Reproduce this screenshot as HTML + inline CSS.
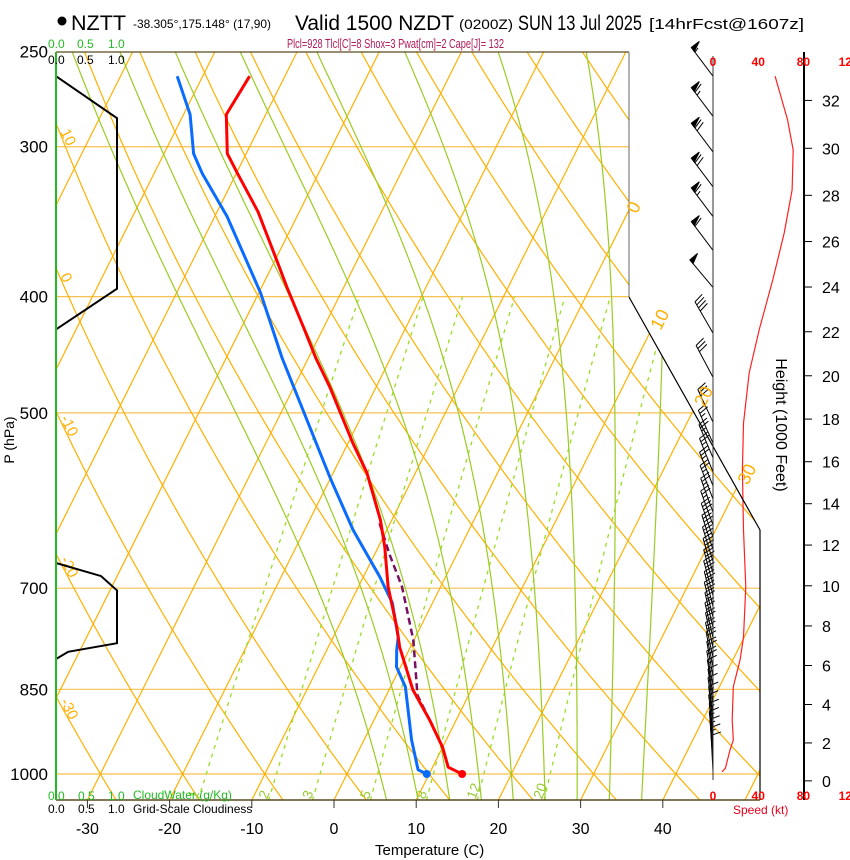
<!DOCTYPE html>
<html><head><meta charset="utf-8"><style>
html,body{margin:0;padding:0;background:#fff;}
svg{display:block;font-family:"Liberation Sans",sans-serif;}
</style></head><body>
<svg id="chart" width="850" height="860" viewBox="0 0 850 860" xmlns="http://www.w3.org/2000/svg">
<defs><clipPath id="plotclip"><polygon points="56,52 629,52 629,297 760,530 760,800 56,800"/></clipPath></defs>
<rect x="0" y="0" width="850" height="860" fill="#fff"/>
<g id="grid" clip-path="url(#plotclip)"></g>
<g id="series"></g>
<g id="axes"></g>
<g id="texts">
<circle cx="62" cy="21" r="4.5" fill="#000"/>
<text x="71" y="30" font-size="21" textLength="55" lengthAdjust="spacingAndGlyphs">NZTT</text>
<text x="133" y="28" font-size="12" textLength="138" lengthAdjust="spacingAndGlyphs">-38.305°,175.148° (17,90)</text>
<text x="295" y="30" font-size="21" textLength="159" lengthAdjust="spacingAndGlyphs">Valid 1500 NZDT</text>
<text x="459" y="29" font-size="14" textLength="54" lengthAdjust="spacingAndGlyphs">(0200Z)</text>
<text x="518" y="30" font-size="21" textLength="124" lengthAdjust="spacingAndGlyphs">SUN 13 Jul 2025</text>
<text x="649" y="29" font-size="15" textLength="155" lengthAdjust="spacingAndGlyphs">[14hrFcst@1607z]</text>
<text x="287" y="48" font-size="13" fill="#b0185a" textLength="217" lengthAdjust="spacingAndGlyphs">Plcl=928 Tlcl[C]=8 Shox=3 Pwat[cm]=2 Cape[J]= 132</text>
<text x="48" y="48" font-size="12" fill="#22bb22">0.0</text>
<text x="77" y="48" font-size="12" fill="#22bb22">0.5</text>
<text x="108" y="48" font-size="12" fill="#22bb22">1.0</text>
<text x="48" y="64" font-size="12">0.0</text>
<text x="77" y="64" font-size="12">0.5</text>
<text x="108" y="64" font-size="12">1.0</text>
<text x="48" y="800" font-size="12" fill="#22bb22">0.0</text>
<text x="78" y="800" font-size="12" fill="#22bb22">0.5</text>
<text x="108" y="800" font-size="12" fill="#22bb22">1.0</text>
<text x="133" y="799" font-size="12" fill="#22bb22">CloudWater (g/Kg)</text>
<text x="48" y="813" font-size="12">0.0</text>
<text x="78" y="813" font-size="12">0.5</text>
<text x="108" y="813" font-size="12">1.0</text>
<text x="133" y="813" font-size="12">Grid-Scale Cloudiness</text>
<text x="375" y="855" font-size="15">Temperature (C)</text>
<text transform="translate(14,440) rotate(-90)" text-anchor="middle" font-size="14">P (hPa)</text>
<text transform="translate(776,425) rotate(90)" text-anchor="middle" font-size="16">Height (1000 Feet)</text>
<text x="733" y="814" font-size="12" fill="#e8001c">Speed (kt)</text>
</g>
</svg>
<script>
// ---- data ----
const tempP = [1000,987,950,902,851,784,754,698,647,614,561,530,476,450,424,393,373,340,316,304,282,262];
const tempT = [14.0,11.9,10.0,6.8,2.9,-1.3,-2.9,-6.4,-9.2,-11.4,-15.9,-19.4,-25.6,-29.1,-32.5,-36.9,-39.8,-45.0,-49.8,-52.3,-54.8,-54.3];
const dewP = [1000,992,937,846,814,788,769,720,685,626,566,450,397,343,316,304,282,262];
const dewT = [9.7,8.4,5.8,1.8,-0.5,-1.5,-2.1,-4.9,-8.0,-14.1,-20.1,-33.2,-39.8,-48.5,-54.1,-56.4,-59.2,-63.1];
const parcelP = [902,860,773,698,657,618];
const parcelT = [6.8,3.8,-0.1,-4.7,-8.1,-11.3];
const cloudTopP = [262,284,394,426];
const cloudTopF = [0,1,1,0];
const cloudLowP = [667,684,703,778,791,802];
const cloudLowF = [0,0.74,1,1,0.2,0];
const speedP = [262,285,302,326,354,387,426,463,510,558,626,698,769,803,846,901,937,955,989,996];
const speedKt = [55,66,71,70,63,53,41,32,27,26,27,29,27,24,18,17,18,15,11,8];
const barbP = [262,283,303,324,343,366,393,429,467,509,530,545,560,575,590,605,620,635,650,665,680,695,710,725,740,755,770,785,800,815,830,845,860,875,890,905,920,935,950,965,980,995];
const barbKt = [55,65,70,70,65,60,50,38,32,28,27,26,26,26,26,27,27,28,28,29,29,29,29,29,28,27,27,26,24,22,20,18,17,17,17,17,17,17,16,15,13,9];
const barbDir = [323,323,323,323,323,323,320,330,332,335,336,337,338,338,339,340,340,341,342,343,344,345,345,346,346,347,347,348,348,349,350,350,351,352,352,353,353,354,354,355,356,357];
const pressureTicks = [250,300,400,500,700,850,1000];
const tempTicks = [-30,-20,-10,0,10,20,30,40];
const heightTicks = [0,2,4,6,8,10,12,14,16,18,20,22,24,26,28,30,32];
const speedTicks = [0,40,80,120];
const mixRatios = [1,2,3,5,8,12,20];
const moistThetas = [4,8,12,16,20,24,28,32,36];
const dryThetaLabels = [10,0,-10,-20,-30];
const isoLabels = [0,10,20,30];

// ---- scales ----
const NS='http://www.w3.org/2000/svg';
function yOf(p){return 774-521*Math.log(1000/p);}
function xOf(T,p){return 347+8.22*T+0.5*(774-yOf(p));}
function spX(k){return 713+1.13*k;}
function cfX(f){return 56+61*f;}
function hToP(hk){return 1013.25*Math.pow(1-6.8756e-6*hk*1000,5.2559);}
function mk(tag,parent,attrs){const e=document.createElementNS(NS,tag);for(const k in attrs)e.setAttribute(k,attrs[k]);parent.appendChild(e);return e;}
const grid=document.getElementById('grid'),series=document.getElementById('series'),axes=document.getElementById('axes'),texts=document.getElementById('texts');
function poly(parent,pts,style){return mk('polyline',parent,Object.assign({points:pts.map(q=>q[0].toFixed(1)+','+q[1].toFixed(1)).join(' '),fill:'none'},style));}
const pLevels=[];for(let p=1052;p>=248;p-=4)pLevels.push(p);

// isobars
pressureTicks.forEach(p=>{
  const l=mk('line',grid,{x1:56,x2:760,y1:yOf(p),y2:yOf(p),stroke:'#f8c050','stroke-width':1.2});
  
  
});
// isotherms
for(let T=-120;T<=50;T+=10){
  const l=poly(grid,[[xOf(T,1052),yOf(1052)],[xOf(T,248),yOf(248)]],{stroke:'#ffb000','stroke-width':1.2});
  
  
}
// dry adiabats
for(let th=-60;th<=160;th+=10){
  const pts=pLevels.map(p=>{const T=(th+273.15)*Math.pow(p/1000,0.2857)-273.15;return [xOf(T,p),yOf(p)];});
  const l=poly(grid,pts,{stroke:'#ffb000','stroke-width':1.2});
  
  
}
// mixing ratio lines
function tFromW(w,p){const e=w*p/(622+w);const a=Math.log(e/6.112);return 243.5*a/(17.67-a);}
mixRatios.forEach(w=>{
  const pts=[];for(let p=1052;p>=400;p-=4)pts.push([xOf(tFromW(w,p),p),yOf(p)]);
  const l=poly(grid,pts,{stroke:'#99dd22','stroke-width':1.3,'stroke-dasharray':'4,5'});
  
  
  const p0=1035;const t=mk('text',grid,{transform:`translate(${xOf(tFromW(w,p0),p0)-4},${yOf(p0)+8}) rotate(-70)`,'font-size':14,fill:'#99cc33'});
  t.textContent=String(w);
  
  
});
// moist adiabats
function es(T){return 6.112*Math.exp(17.67*(T-273.15)/(T-29.65));}
function dTdp(T,p){const e=es(T);const rs=0.622*e/(p-e);return (287*T+2.5e6*rs)/(p*(1004+2.5e6*2.5e6*rs*0.622/(287*T*T)));}
moistThetas.forEach(tw=>{
  const up=[];let T=tw+273.15;for(let p=1000;p>=248;p-=2){up.push([xOf(T-273.15,p),yOf(p)]);T-=dTdp(T,p)*2;}
  const dn=[];T=tw+273.15;for(let p=1000;p<=1052;p+=2){dn.push([xOf(T-273.15,p),yOf(p)]);T+=dTdp(T,p)*2;}
  const l=poly(grid,dn.reverse().concat(up),{stroke:'#99cc22','stroke-width':1.2});
  
  
});

// frame
const fr=poly(axes,[[629,52],[56,52]],{stroke:'#5a4a20','stroke-width':1.3});


const fr2=poly(axes,[[629,52],[629,297]],{stroke:'#666','stroke-width':1});


const fr3=poly(axes,[[629,297],[760,530],[760,800]],{stroke:'#000','stroke-width':1.2});


const fr4=poly(axes,[[56,800],[760,800]],{stroke:'#5a4a20','stroke-width':1.5});


const cw=poly(axes,[[56,52],[56,800]],{stroke:'#22bb22','stroke-width':2});


const sa=poly(axes,[[713,56],[713,780]],{stroke:'#333','stroke-width':1});


const ha=poly(axes,[[804,52],[804,800]],{stroke:'#000','stroke-width':2});



// pressure tick labels
pressureTicks.forEach(p=>{
  const t=mk('text',texts,{x:48,y:yOf(p)+6,'text-anchor':'end','font-size':17});
  t.textContent=String(p);
  
  
});
// temperature ticks
tempTicks.forEach(T=>{
  const x=347+8.22*T-13;
  const tk=mk('line',axes,{x1:x,x2:x,y1:800,y2:808,stroke:'#333','stroke-width':1});
  
  
  const t=mk('text',texts,{x:x,y:834,'text-anchor':'middle','font-size':16});
  t.textContent=String(T);
  
  
});
// height ticks
heightTicks.forEach(h=>{
  const y=yOf(hToP(h));
  const tk=mk('line',axes,{x1:804,x2:812,y1:y,y2:y,stroke:'#000','stroke-width':1});
  
  
  const t=mk('text',texts,{x:822,y:y+6,'font-size':16});
  t.textContent=String(h);
  
  
});
// speed ticks
speedTicks.forEach(k=>{
  [66,800].forEach(yy=>{
    const t=mk('text',texts,{x:spX(k),y:yy,'text-anchor':'middle','font-size':12,'font-weight':'bold',fill:'#ff0000'});
    t.textContent=String(k);
    
    
  });
});
// adiabat / isotherm labels
dryThetaLabels.forEach(th=>{
  let best=1000,bd=1e9;for(let p=250;p<=1050;p+=1){const T=(th+273.15)*Math.pow(p/1000,0.2857)-273.15;const d=Math.abs(xOf(T,p)-62);if(d<bd){bd=d;best=p;}}
  const t=mk('text',grid,{transform:`translate(60,${yOf(best)-6}) rotate(63)`,'font-size':15,fill:'#ffb000'});
  t.textContent=String(th);
  
  
});
isoLabels.forEach(T=>{
  let best=1000,bd=1e9;for(let p=250;p<=1050;p+=1){const y=yOf(p);const bx=y<297?629:(y<530?629+(y-297)*131/233:760);const d=Math.abs(xOf(T,p)-bx+6);if(d<bd){bd=d;best=p;}}
  const t=mk('text',texts,{transform:`translate(${xOf(T,best)+14},${yOf(best)-8}) rotate(-63)`,'font-size':18,fill:'#ffb000'});
  t.textContent=String(T);
  
  
});

// cloud profiles
const c1=poly(series,cloudTopP.map((p,i)=>[cfX(cloudTopF[i]),yOf(p)]),{stroke:'#000','stroke-width':2});


const c2=poly(series,cloudLowP.map((p,i)=>[cfX(cloudLowF[i]),yOf(p)]),{stroke:'#000','stroke-width':2});



// profiles
const pl=poly(series,parcelP.map((p,i)=>[xOf(parcelT[i],p),yOf(p)]),{stroke:'#7a1060','stroke-width':2.5,'stroke-dasharray':'7,4'});


const dl=poly(series,dewP.map((p,i)=>[xOf(dewT[i],p),yOf(p)]),{stroke:'#0a6cff','stroke-width':3,'stroke-linejoin':'round'});


const tl=poly(series,tempP.map((p,i)=>[xOf(tempT[i],p),yOf(p)]),{stroke:'#ff0000','stroke-width':3,'stroke-linejoin':'round'});


const dd=mk('circle',series,{cx:xOf(dewT[0],dewP[0]),cy:yOf(dewP[0]),r:4,fill:'#0a6cff'});


const td=mk('circle',series,{cx:xOf(tempT[0],tempP[0]),cy:yOf(tempP[0]),r:4,fill:'#ff0000'});



// speed profile
const sl=poly(series,speedP.map((p,i)=>[spX(speedKt[i]),yOf(p)]),{stroke:'#ff2020','stroke-width':1.2});



// wind barbs
const bg=mk('g',series,{stroke:'#000','stroke-width':1,fill:'#000'});


barbP.forEach((p,i)=>{
  const g=mk('g',bg,{});
  
  
  const bx=713,by=yOf(p),a=barbDir[i]*Math.PI/180;
  const ux=Math.sin(a),uy=-Math.cos(a),L=36;
  const tx=bx+ux*L,ty=by+uy*L;
  mk('line',g,{x1:bx,y1:by,x2:tx,y2:ty});
  const px=-uy,py=ux;
  let s=Math.round(barbKt[i]/5)*5,pos=0;
  while(s>=50){const x0=tx-ux*pos,y0=ty-uy*pos;mk('polygon',g,{points:`${x0},${y0} ${x0+px*10},${y0+py*10} ${x0-ux*5},${y0-uy*5}`});pos+=6;s-=50;}
  while(s>=10){const x0=tx-ux*pos,y0=ty-uy*pos;mk('line',g,{x1:x0,y1:y0,x2:x0+px*10+ux*3,y2:y0+py*10+uy*3});pos+=3.5;s-=10;}
  if(s>=5){const x0=tx-ux*pos,y0=ty-uy*pos;mk('line',g,{x1:x0,y1:y0,x2:x0+px*5+ux*1.5,y2:y0+py*5+uy*1.5});}
});
</script>
</body></html>
